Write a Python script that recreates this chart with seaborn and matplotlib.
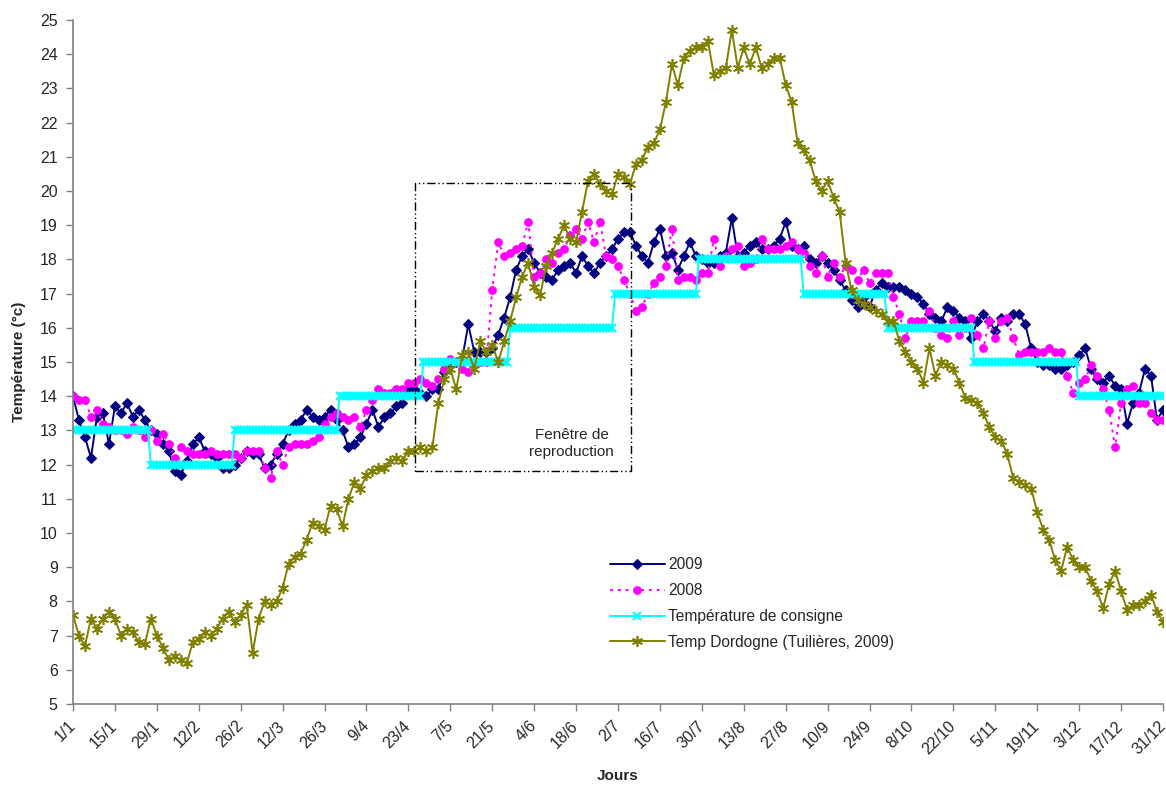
import datetime as dt
import numpy as np
import pandas as pd
import matplotlib
matplotlib.use("Agg")
import matplotlib.pyplot as plt
from matplotlib.patches import Rectangle
import seaborn as sns

# ---------------- data ----------------
tick_labels = ["1/1", "15/1", "29/1", "12/2", "26/2", "12/3", "26/3", "9/4", "23/4",
               "7/5", "21/5", "4/6", "18/6", "2/7", "16/7", "30/7", "13/8", "27/8",
               "10/9", "24/9", "8/10", "22/10", "5/11", "19/11", "3/12", "17/12", "31/12"]

# measurements every second day of the year (day 0 = 1 January)
t2009 = [14.0, 13.3, 12.8, 12.2, 13.4, 13.5, 12.6, 13.7, 13.5, 13.8, 13.4, 13.6, 13.3, 13.0, 12.9,
         12.6, 12.4, 11.8, 11.7, 12.1, 12.6, 12.8, 12.4, 12.3, 12.2, 11.9, 11.9, 12.0, 12.2, 12.4,
         12.3, 12.3, 11.9, 12.0, 12.3, 12.6, 13.0, 13.2, 13.3, 13.6, 13.4, 13.3, 13.4, 13.6, 13.3,
         13.0, 12.5, 12.6, 12.8, 13.2, 13.6, 13.1, 13.4, 13.5, 13.7, 13.8, 14.2, 14.2, 14.1, 14.0,
         14.2, 14.2, 14.7, 14.9, 15.0, 15.1, 16.1, 15.3, 15.3, 15.3, 15.4, 15.8, 16.3, 16.9, 17.7,
         18.1, 18.3, 17.9, 17.6, 17.5, 17.4, 17.7, 17.8, 17.9, 17.6, 18.1, 17.8, 17.6, 17.9, 18.1,
         18.3, 18.6, 18.8, 18.8, 18.4, 18.1, 17.9, 18.5, 18.9, 18.1, 18.2, 17.7, 18.1, 18.5, 18.1,
         18.0, 17.9, 17.9, 18.1, 18.2, 19.2, 18.1, 18.2, 18.4, 18.5, 18.3, 18.3, 18.4, 18.6, 19.1,
         18.4, 18.3, 18.4, 18.0, 17.9, 18.1, 17.9, 17.7, 17.4, 17.1, 16.8, 16.6, 16.9, 16.6, 17.1,
         17.3, 17.2, 17.2, 17.2, 17.1, 17.0, 16.9, 16.7, 16.4, 16.3, 16.2, 16.6, 16.5, 16.3, 16.2,
         15.7, 16.2, 16.4, 16.2, 15.9, 16.3, 16.2, 16.4, 16.4, 16.1, 15.4, 15.0, 14.9, 14.9, 14.8,
         14.8, 14.9, 15.0, 15.2, 15.4, 14.8, 14.5, 14.4, 14.6, 14.3, 14.2, 13.2, 13.8, 14.1, 14.8,
         14.6, 13.3, 13.6]

t2008 = [14.0, 13.9, 13.9, 13.4, 13.6, 13.2, 13.1, 13.0, 13.0, 12.9, 13.1, 13.0, 12.8, 13.0, 12.7,
         12.9, 12.6, 12.2, 12.5, 12.4, 12.3, 12.3, 12.3, 12.4, 12.3, 12.3, 12.3, 12.3, 12.2, 12.4,
         12.4, 12.4, 11.9, 11.6, 12.4, 12.0, 12.5, 12.6, 12.6, 12.6, 12.7, 12.8, 13.2, 13.4, 13.5,
         13.4, 13.3, 13.4, 13.1, 13.6, 13.9, 14.2, 14.1, 14.1, 14.2, 14.2, 14.4, 14.4, 14.5, 14.4,
         14.3, 14.5, 14.8, 15.1, 15.0, 14.8, 14.7, 14.9, 15.0, 15.0, 17.1, 18.5, 18.1, 18.2, 18.3,
         18.4, 19.1, 17.5, 17.6, 18.0, 17.9, 18.2, 18.3, 18.7, 18.9, 18.6, 19.1, 18.5, 19.1, 18.1,
         18.0, 17.8, 17.4, 17.0, 16.5, 16.6, 17.0, 17.3, 17.5, 17.8, 18.9, 17.4, 17.5, 17.5, 17.4,
         17.6, 17.6, 18.6, 17.8, 18.1, 18.3, 18.4, 17.8, 17.9, 18.0, 18.6, 18.3, 18.3, 18.3, 18.4,
         18.5, 18.3, 18.2, 17.8, 17.6, 18.1, 17.5, 17.9, 17.5, 17.8, 17.7, 17.4, 17.7, 17.3, 17.6,
         17.6, 17.6, 16.9, 16.4, 15.7, 16.2, 16.2, 16.2, 16.5, 16.0, 15.8, 15.7, 16.2, 15.8, 16.0,
         16.3, 15.8, 15.4, 16.2, 15.7, 16.2, 16.3, 15.7, 15.2, 15.3, 15.3, 15.3, 15.3, 15.4, 15.3,
         15.3, 14.6, 14.1, 14.4, 14.5, 14.9, 14.6, 14.2, 13.6, 12.5, 13.8, 14.2, 14.3, 13.8, 13.8,
         13.5, 13.3, 13.3]

dordogne = [7.6, 7.0, 6.7, 7.5, 7.2, 7.5, 7.7, 7.5, 7.0, 7.2, 7.1, 6.8, 6.75, 7.5, 7.0,
            6.65, 6.3, 6.4, 6.3, 6.2, 6.8, 6.9, 7.1, 7.0, 7.2, 7.5, 7.7, 7.4, 7.6, 7.9,
            6.5, 7.5, 8.0, 7.9, 8.0, 8.4, 9.1, 9.3, 9.4, 9.8, 10.3, 10.2, 10.1, 10.8, 10.7,
            10.2, 11.0, 11.5, 11.3, 11.7, 11.8, 11.9, 11.9, 12.1, 12.2, 12.1, 12.4, 12.4, 12.5, 12.4,
            12.5, 13.8, 14.5, 14.8, 14.2, 15.2, 15.3, 14.8, 15.6, 15.3, 15.5, 15.0, 15.6, 16.2, 16.9,
            17.5, 17.9, 17.2, 16.95, 17.8, 18.2, 18.6, 19.0, 18.6, 18.5, 19.4, 20.3, 20.5, 20.2, 20.0,
            19.9, 20.5, 20.4, 20.2, 20.8, 20.9, 21.3, 21.4, 21.8, 22.6, 23.7, 23.1, 23.9, 24.1, 24.2,
            24.2, 24.4, 23.4, 23.5, 23.6, 24.7, 23.6, 24.2, 23.7, 24.2, 23.6, 23.7, 23.9, 23.9, 23.1,
            22.6, 21.4, 21.2, 20.9, 20.3, 20.0, 20.3, 19.8, 19.4, 17.9, 17.1, 16.8, 16.7, 16.6, 16.5,
            16.4, 16.2, 16.2, 15.6, 15.3, 15.0, 14.8, 14.4, 15.4, 14.6, 15.0, 14.9, 14.8, 14.4, 13.95,
            13.9, 13.8, 13.5, 13.1, 12.8, 12.7, 12.3, 11.6, 11.5, 11.4, 11.3, 10.6, 10.1, 9.8, 9.2,
            8.9, 9.6, 9.2, 9.0, 9.0, 8.6, 8.3, 7.8, 8.5, 8.9, 8.3, 7.75, 7.9, 7.9, 8.0,
            8.2, 7.7, 7.4]

# set-point temperature: level and number of days it was held
consigne_levels = [13, 12, 13, 14, 15, 16, 17, 18, 17, 16, 15, 14]
consigne_days = [26, 28, 35, 28, 29, 35, 28, 35, 28, 29, 35, 29]

series_names = ["2009", "2008", "Température de consigne", "Temp Dordogne (Tuilières, 2009)"]

# ---------------- build frames ----------------
start = dt.date(2009, 1, 1)
tick_days = [(dt.date(2009, int(l.split("/")[1]), int(l.split("/")[0])) - start).days
             for l in tick_labels]
days2 = np.arange(0, 365, 2)
df2009 = pd.DataFrame({"jour": days2, "temp": t2009})
df2008 = pd.DataFrame({"jour": days2, "temp": t2008})
dfdor = pd.DataFrame({"jour": days2, "temp": dordogne})
cons = np.repeat(consigne_levels, consigne_days)
dfcons = pd.DataFrame({"jour": np.arange(len(cons)), "temp": cons})

# ---------------- plot ----------------
sns.set_style("white")
plt.rcParams["font.family"] = ["Liberation Sans", "DejaVu Sans"]

W, H = 1166, 792
fig = plt.figure(figsize=(W / 100, H / 100), dpi=100)
ax = fig.add_axes([73 / W, 1 - 704 / H, (1163 - 73) / W, (704 - 20) / H])

sns.lineplot(data=df2009, x="jour", y="temp", ax=ax, color="#000080", lw=1.4,
             marker="D", markersize=5.5, markeredgecolor="#000080", label=series_names[0])
sns.lineplot(data=df2008, x="jour", y="temp", ax=ax, color="#FF00FF", lw=1.4,
             linestyle=(0, (1.5, 2.5)), marker="o", markersize=5.5,
             markeredgecolor="#FF00FF", label=series_names[1])
sns.lineplot(data=dfcons, x="jour", y="temp", ax=ax, color="#00FFFF", lw=1.4,
             marker="x", markersize=6, markeredgewidth=1.5, markeredgecolor="#00FFFF",
             label=series_names[2])
sns.lineplot(data=dfdor, x="jour", y="temp", ax=ax, color="#808000", lw=1.4,
             marker=(6, 2, 0), markersize=8, markeredgewidth=1.2, markeredgecolor="#808000",
             label=series_names[3])

# reproduction window
ax.add_patch(Rectangle((114.3, 11.82), 186.2 - 114.3, 20.22 - 11.82, fill=False,
                       edgecolor="black", lw=1.0, linestyle=(0, (6, 2, 1, 2, 1, 2)), zorder=5))
ax.text(166.5, 12.62, "Fenêtre de\nreproduction", ha="center", va="center",
        fontsize=11, linespacing=1.3, zorder=6)

ax.set_xlim(0, 364)
ax.set_ylim(5, 25)
ax.set_yticks(range(5, 26))
ax.set_yticklabels([str(v) for v in range(5, 26)], fontsize=11.5)
ax.set_xticks(tick_days)
ax.set_xticklabels(tick_labels, rotation=45, ha="right", va="center",
                   rotation_mode="anchor", fontsize=11.5)

for s in ["top", "right"]:
    ax.spines[s].set_visible(False)
for s in ["left", "bottom"]:
    ax.spines[s].set_color("#808080")
    ax.spines[s].set_linewidth(1.2)
ax.tick_params(axis="both", direction="out", length=5, width=1, color="#808080",
               left=True, bottom=True)
ax.tick_params(axis="x", pad=9)
ax.tick_params(axis="y", pad=6)

ax.set_ylabel("Température (°c)", fontsize=11, fontweight="bold", labelpad=10)
ax.set_xlabel("Jours", fontsize=11, fontweight="bold", labelpad=9)

leg = ax.legend(loc="upper left", bbox_to_anchor=(0.48, 0.235), frameon=False,
                fontsize=11.2, handlelength=3.5, labelspacing=0.7, handletextpad=0.2)

fig.savefig("out.png", dpi=100)
